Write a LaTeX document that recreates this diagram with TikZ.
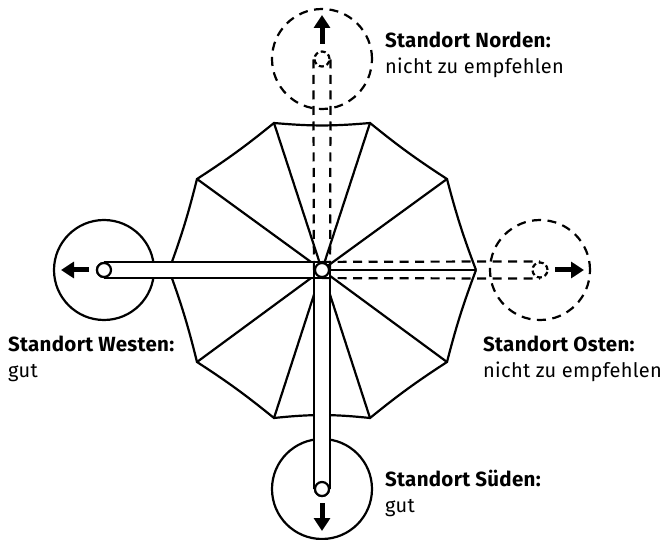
\documentclass[tikz,border=0pt]{standalone}
\usepackage{fontspec}
\setmainfont{Fira Sans}[LetterSpace=1.5]
\usetikzlibrary{arrows.meta}
\newcommand{\regline}{\fontsize{20}{26}\selectfont}
\tikzset{
  x=1pt,y=-1pt,
  line/.style={line width=2.2pt,black},
  big/.style={circle,draw,line width=2.2pt,minimum size=100pt,inner sep=0pt},
  hub/.style={circle,draw,fill=white,line width=2.2pt,minimum size=14pt,inner sep=0pt},
  dashy/.style={dash pattern=on 9pt off 6.5pt},
  dotty/.style={circle,draw,line width=2.2pt,minimum size=15pt,inner sep=0pt,dash pattern=on 5pt off 3pt},
  move/.style={line width=5pt,-{Triangle[length=13pt,width=16pt]}},
  lab/.style={anchor=north west,align=left,inner sep=0pt,font=\fontsize{20.5}{26}\selectfont,text=black},
}
\begin{document}
\begin{tikzpicture}
\useasboundingbox (0,0) rectangle (665,540);
\node[big] (bigW) at (104,270) {};
\node[big] (bigS) at (322,489) {};
\node[big,dashy] (bigN) at (322,59) {};
\node[big,dashy] (bigE) at (540,270) {};
\coordinate (cc) at (322,270);
\coordinate (v0) at (476,270);
\coordinate (v1) at (447,362);
\coordinate (v2) at (370,418);
\coordinate (v3) at (274,418);
\coordinate (v4) at (197,362);
\coordinate (v5) at (169,270);
\coordinate (v6) at (197,179);
\coordinate (v7) at (274,123);
\coordinate (v8) at (370,123);
\coordinate (v9) at (447,179);
\foreach \i in {0,...,9}{\draw[line] (cc) -- (v\i);}
\draw[line,line join=miter] (v0) to[bend right=3] (v1) to[bend right=3] (v2) to[bend right=6] (v3) to[bend right=3] (v4) to[bend right=3] (v5) to[bend right=3] (v6) to[bend right=3] (v7) to[bend right=5] (v8) to[bend right=3] (v9) to[bend right=3] (v0);
\node[hub] (hubC) at (cc) {};
\node[hub] (hubW) at (104,270) {};
\node[hub] (hubS) at (322,489) {};
\node[dotty] (hubN) at (322,59) {};
\node[dotty] (hubE) at (540,270) {};
\fill[white] (hubW.north) rectangle (hubC.south);
\fill[white] (hubC.west) rectangle (hubS.east);
\draw[line] (hubW.north) -- (hubC.north);
\draw[line] (hubW.south) -- (hubC.south);
\draw[line] (hubC.west) -- (hubS.west);
\draw[line] (hubC.east) -- (hubS.east);
\node[hub] at (hubW) {};
\node[hub] at (hubS) {};
\draw[line,dashy] (hubC.west) -- (hubN.west);
\draw[line,dashy] (hubC.east) -- (hubN.east);
\draw[line,dashy] (hubC.north) -- (hubE.north);
\draw[line,dashy] (hubC.south) -- (hubE.south);
\node[hub] at (hubC) {};
\coordinate (aN0) at (322,44); \coordinate (aN1) at (322,15);
\coordinate (aE0) at (555,270); \coordinate (aE1) at (584,270);
\coordinate (aS0) at (322,503); \coordinate (aS1) at (322,531);
\coordinate (aW0) at (89,270); \coordinate (aW1) at (61,270);
\draw[move] (aN0) -- (aN1);
\draw[move] (aE0) -- (aE1);
\draw[move] (aS0) -- (aS1);
\draw[move] (aW0) -- (aW1);
\node[lab] (tN) at (385,32) {\textbf{Standort Norden:}\\{\regline nicht zu empfehlen}};
\node[lab] (tE) at (483,336) {\textbf{Standort Osten:}\\{\regline nicht zu empfehlen}};
\node[lab] (tW) at (8,336) {\textbf{Standort Westen:}\\{\regline gut}};
\node[lab] (tS) at (385,470) {\textbf{Standort Süden:}\\{\regline gut}};
\end{tikzpicture}
\end{document}
